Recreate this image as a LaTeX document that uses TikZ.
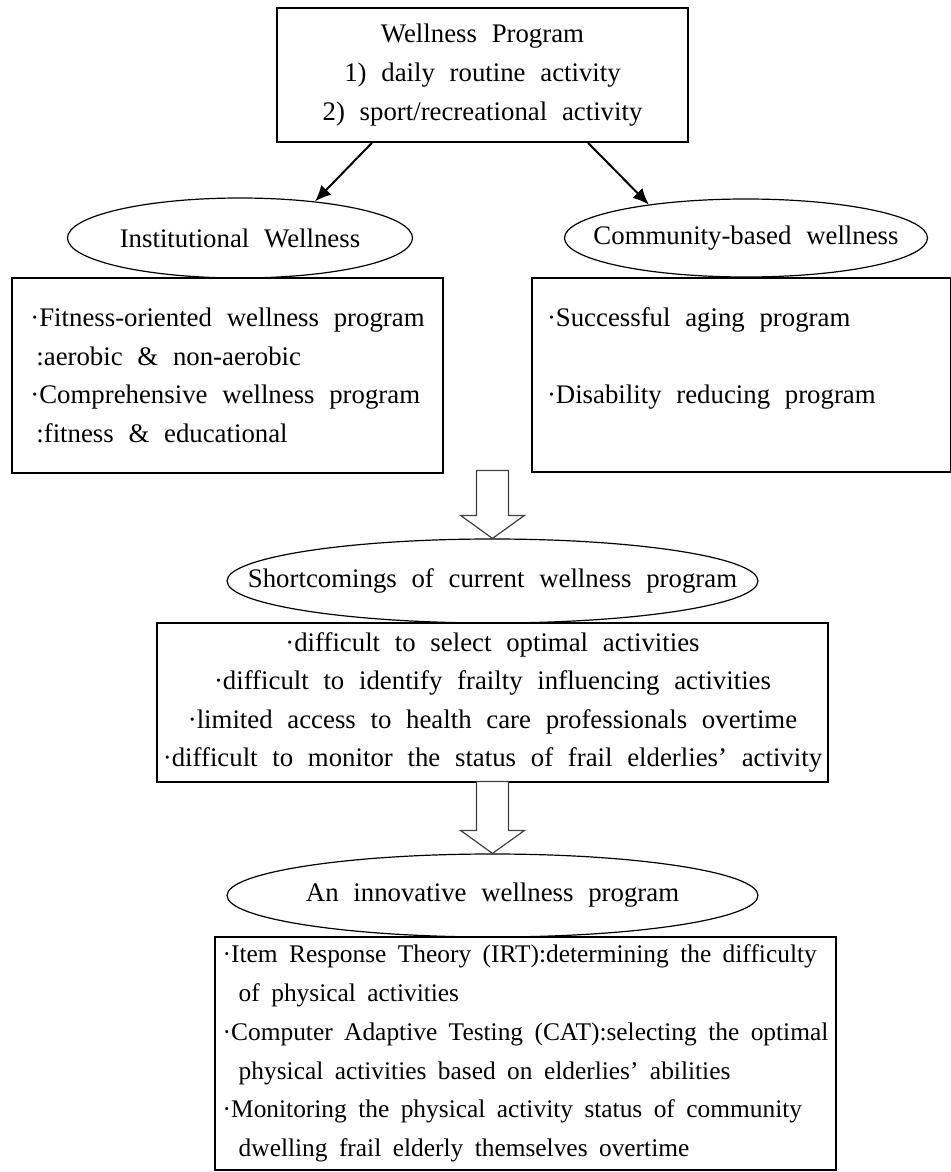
\documentclass[tikz,border=0pt]{standalone}
\usepackage{fontspec}
\setmainfont{Liberation Serif}
\usetikzlibrary{positioning,shapes.geometric,arrows.meta}

\newcommand{\wtext}{\fontsize{13.4}{19.3}\selectfont}
\tikzset{
  box/.style={draw, line width=0.8pt, rectangle, inner sep=3pt, font=\wtext,
    execute at begin node={\spaceskip=0.55em plus 0.1em minus 0.05em}},
  oval/.style={draw, ellipse, line width=0.6pt, inner sep=0pt},
  oval text/.style={label={[font=\wtext, execute at begin node={\spaceskip=0.55em plus 0.1em}]center:#1}},
  blackarrow/.style={-{Latex[length=8pt,width=7pt]}, line width=1pt},
  hollow/.style={draw=black!75, line width=0.6pt, fill=white},
}

\begin{document}
\begin{tikzpicture}[x=0.5pt,y=-0.5pt]
  \useasboundingbox (0,0) rectangle (951,1172);

  % top box
  \node[box, align=center, minimum width=205.5pt, minimum height=67pt] (wp) at (482.5,75)
    {Wellness Program\\1) daily routine activity\\2) sport/recreational activity};

  \node[oval, minimum width=172.5pt, minimum height=40pt, oval text={Institutional Wellness}] (inst) at (240,238) {};
  \node[oval, minimum width=181.5pt, minimum height=39pt, oval text={Community-based wellness}] (comm) at (746,238) {};

  \draw[blackarrow] ([xshift=-55.25pt]wp.south) -- (inst.26);
  \draw[blackarrow] ([xshift=52.75pt]wp.south) -- (comm.161);

  % the two program boxes
  \node[box, align=left, minimum width=215.5pt, minimum height=97.5pt] (lbox) at (227.5,375.5)
    {·Fitness-oriented wellness program\\\hspace*{3pt}:aerobic \& non-aerobic\\·Comprehensive wellness program\\\hspace*{3pt}:fitness \& educational};
  \node[box, align=left, inner xsep=7.5pt, text width=194.5pt, minimum height=97pt] (rbox) at (741.5,375)
    {·Successful aging program\\\mbox{}\\·Disability reducing program\\\mbox{}};

  % shortcomings
  \node[oval, minimum width=265.5pt, minimum height=42pt, oval text={Shortcomings of current wellness program}] (short) at (492.5,581) {};
  \draw[hollow] (short.north) -- ++(-32,-23) -- ++(16,0) -- ++(0,-45) -- ++(32,0) -- ++(0,45) -- ++(16,0) -- cycle;

  \node[box, align=center, minimum width=335.5pt, minimum height=79.5pt] (sbox) at (492.5,702.5)
    {·difficult to select optimal activities\\·difficult to identify frailty influencing activities\\·limited access to health care professionals overtime\\·difficult to monitor the status of frail elderlies’ activity};

  % innovative program
  \node[oval, minimum width=265.5pt, minimum height=41.5pt, oval text={An innovative wellness program}] (innov) at (492.5,895.5) {};
  \draw[hollow] (innov.north) -- ++(-32,-23) -- ++(16,0) -- ++(0,-49) -- ++(32,0) -- ++(0,49) -- ++(16,0) -- cycle;

  \node[box, align=left, minimum width=310.5pt, minimum height=116.5pt,
        font=\fontsize{12.7}{19.4}\selectfont,
        execute at begin node={\spaceskip=0.45em plus 0.1em minus 0.05em}] (ibox) at (525.5,1053.5)
    {·Item Response Theory (IRT):determining the difficulty\\
     \hspace*{8pt}of physical activities\\
     ·Computer Adaptive Testing (CAT):selecting the optimal\\
     \hspace*{8pt}physical activities based on elderlies’ abilities\\
     ·Monitoring the physical activity status of community\\
     \hspace*{8pt}dwelling frail elderly themselves overtime};
\end{tikzpicture}
\end{document}
